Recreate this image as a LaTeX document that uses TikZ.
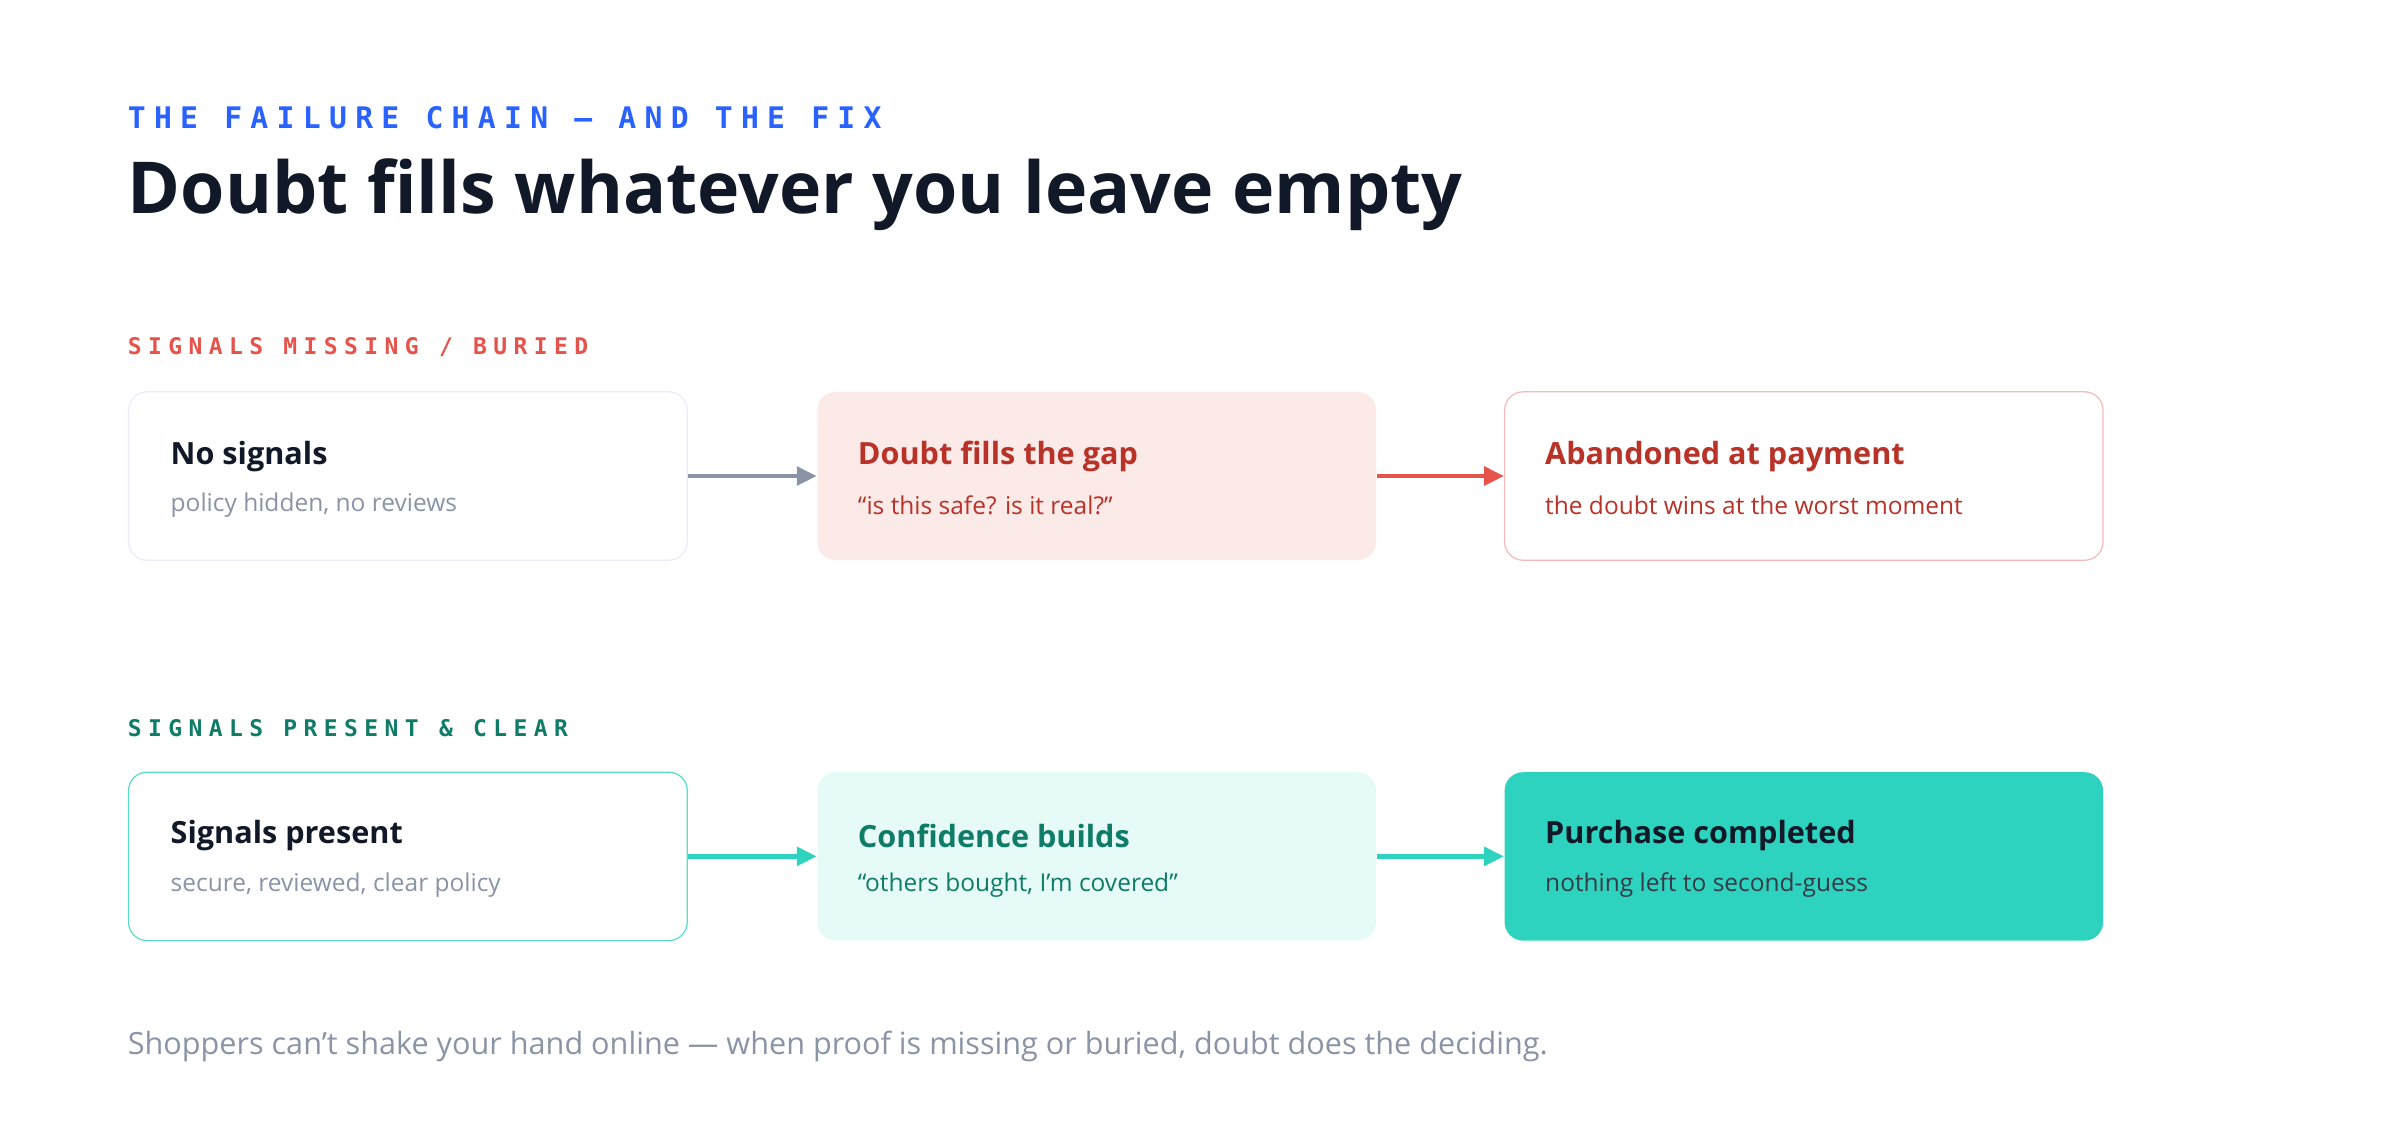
\documentclass[tikz,border=0pt]{standalone}
\usepackage{fontspec}
\setmainfont{Open Sans}
\newfontfamily\monof[LetterSpace=28]{DejaVu Sans Mono}
\usetikzlibrary{positioning,arrows.meta}
\definecolor{inkdark}{HTML}{111827}
\definecolor{inkgrey}{HTML}{8A94A6}
\definecolor{kickblue}{HTML}{2962FF}
\definecolor{badred}{HTML}{E5534B}
\definecolor{baddark}{HTML}{B83227}
\definecolor{goodgreen}{HTML}{0E7C66}
\definecolor{goodteal}{HTML}{2ED3BF}
\newcommand{\apos}{\char"0027\relax}
\tikzset{
  stagebox/.style={draw, rounded corners=12pt, minimum width=365pt, minimum height=110pt, line width=0.8pt},
  head/.style={anchor=west, font=\bfseries\fontsize{20}{24}\selectfont},
  sub/.style={anchor=west, font=\fontsize{16}{19}\selectfont},
  link/.style={-{Triangle[length=13pt,width=12pt]}, line width=3pt},
  tag/.style={anchor=west, font=\monof\bfseries\fontsize{15}{18}\selectfont}
}
\begin{document}
\begin{tikzpicture}[x=1pt,y=-1pt]
    \useasboundingbox (0,0) rectangle (1568,732);
    % Heading
    \node[tag, text=kickblue, font=\monof\bfseries\fontsize{19.4}{22}\selectfont] (kicker) at (80,77) {THE FAILURE CHAIN — AND THE FIX};
    \node[anchor=west, text=inkdark, font=\bfseries\fontsize{46.8}{56}\selectfont] (title) at (80,127) {Doubt fills whatever you leave empty};
    % Failure row
    \node[tag, text=badred] (badtag) at (80,227) {SIGNALS MISSING / BURIED};
    \node[stagebox, draw=black!10!blue!8, fill=white] (bad1) at (266.5,311) {};
    \node[stagebox, draw=none, fill=badred!12] (bad2) at (716.5,311) {};
    \node[stagebox, draw=badred!40, fill=white, minimum width=391pt] (bad3) at (1178.5,311) {};
    \node[head, text=inkdark] at (108,298) {No signals};
    \node[sub, text=inkgrey] at (108,330) {policy hidden, no reviews};
    \node[head, text=baddark] at (557,298) {Doubt fills the gap};
    \node[sub, text=baddark] at (557,330) {“is this safe? is it real?”};
    \node[head, text=baddark] at (1006,298) {Abandoned at payment};
    \node[sub, text=baddark] at (1006,330) {the doubt wins at the worst moment};
    \draw[link, draw=inkgrey, fill=inkgrey] (bad1) -- (bad2);
    \draw[link, draw=badred, fill=badred] (bad2) -- (bad3);
    % Fix row
    \node[tag, text=goodgreen] (goodtag) at (80,476) {SIGNALS PRESENT \& CLEAR};
    \node[stagebox, draw=goodteal!80, fill=white] (good1) at (266.5,559.5) {};
    \node[stagebox, draw=none, fill=goodteal!12] (good2) at (716.5,559.5) {};
    \node[stagebox, draw=none, fill=goodteal, minimum width=391pt] (good3) at (1178.5,559.5) {};
    \node[head, text=inkdark] at (108,546) {Signals present};
    \node[sub, text=inkgrey] at (108,578) {secure, reviewed, clear policy};
    \node[head, text=goodgreen] at (557,546) {Confidence builds};
    \node[sub, text=goodgreen] at (557,578) {“others bought, I\apos m covered”};
    \node[head, text=inkdark] at (1006,546) {Purchase completed};
    \node[sub, text=inkdark!85] at (1006,578) {nothing left to second-guess};
    \draw[link, draw=goodteal, fill=goodteal] (good1) -- (good2);
    \draw[link, draw=goodteal, fill=goodteal] (good2) -- (good3);
    % Footer
    \node[anchor=west, text=inkgrey, font=\fontsize{20}{24}\selectfont] (foot) at (80,684) {Shoppers can\apos t shake your hand online — when proof is missing or buried, doubt does the deciding.};
\end{tikzpicture}
\end{document}
